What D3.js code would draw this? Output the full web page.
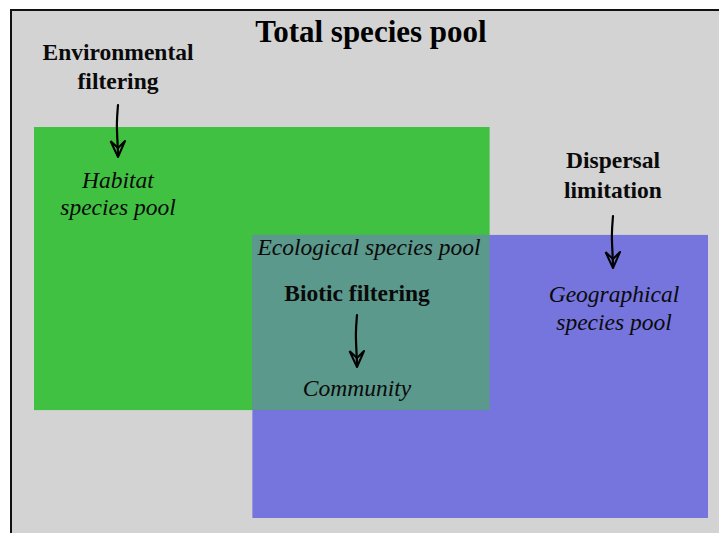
<!DOCTYPE html>
<html>
<head>
<meta charset="utf-8">
<script src="https://cdn.jsdelivr.net/npm/d3@7"></script>
<style>
  html, body { margin: 0; padding: 0; background: #ffffff; }
  svg { display: block; }
</style>
</head>
<body>
<svg id="chart" width="719" height="533"></svg>
<script>
// ---- data ----
const titleText = "Total species pool";
const poolNames = ["Habitat species pool", "Geographical species pool", "Ecological species pool"];
const poolX0 = [0, 32.4];
const poolX1 = [67.6, 100];
const poolY0 = [0, 27.6];
const poolY1 = [72.4, 100];
const processLines = [["Environmental", "filtering"], ["Dispersal", "limitation"], ["Biotic filtering"]];
const poolLines = [["Habitat", "species pool"], ["Geographical", "species pool"], ["Ecological species pool"], ["Community"]];

// ---- layout ----
const W = 719, H = 533;
const svg = d3.select("#chart");
const x = d3.scaleLinear().domain([0, 100]).range([34, 708]);
const y = d3.scaleLinear().domain([0, 100]).range([127, 518]);

const serif = "'Liberation Serif', 'Times New Roman', Times, serif";

// panel
svg.append("rect")
  .attr("x", 11).attr("y", 10).attr("width", W + 20).attr("height", H + 20)
  .attr("fill", "#d3d3d3").attr("stroke", "#111").attr("stroke-width", 2);

// pools
const colors = ["#41c142", "#7575dd"];
const pools = poolX0.map((d, i) => ({ x0: poolX0[i], x1: poolX1[i], y0: poolY0[i], y1: poolY1[i], name: poolNames[i], color: colors[i] }));
svg.selectAll("rect.pool").data(pools).enter().append("rect")
  .attr("class", "pool")
  .attr("x", d => x(d.x0)).attr("y", d => y(d.y0))
  .attr("width", d => x(d.x1) - x(d.x0)).attr("height", d => y(d.y1) - y(d.y0))
  .attr("fill", d => d.color);

// intersection (ecological species pool)
const inter = {
  x0: Math.max(poolX0[0], poolX0[1]), x1: Math.min(poolX1[0], poolX1[1]),
  y0: Math.max(poolY0[0], poolY0[1]), y1: Math.min(poolY1[0], poolY1[1])
};
svg.append("rect")
  .attr("x", x(inter.x0)).attr("y", y(inter.y0))
  .attr("width", x(inter.x1) - x(inter.x0)).attr("height", y(inter.y1) - y(inter.y0))
  .attr("fill", "#5b998c");

// title
svg.append("text").attr("x", 371).attr("y", 42)
  .attr("text-anchor", "middle").attr("font-family", serif)
  .attr("font-weight", "bold").attr("font-size", 31).attr("fill", "#000")
  .text(titleText);

function multiline(lines, cx, y0, dy, bold, italic, size) {
  const t = svg.append("text").attr("text-anchor", "middle")
    .attr("font-family", serif).attr("font-size", size).attr("fill", "#0a0a0a")
    .attr("font-weight", bold ? "bold" : "normal")
    .attr("font-style", italic ? "italic" : "normal");
  lines.forEach((l, i) => {
    t.append("tspan").attr("x", cx).attr("y", y0 + i * dy).text(l);
  });
}

// process labels (bold)
multiline(processLines[0], 118, 60, 29, true, false, 23.5);
multiline(processLines[1], 613, 168, 30, true, false, 23.5);
multiline(processLines[2], 357, 301, 0, true, false, 23.5);

// pool labels (italic)
multiline(poolLines[0], 118, 188, 27, false, true, 23.5);
multiline(poolLines[1], 614, 302, 28, false, true, 23.5);
multiline(poolLines[2], 369, 255, 0, false, true, 23.5);
multiline(poolLines[3], 357, 396, 0, false, true, 23.5);

// hand-drawn arrows
function arrow(cx, top, tip) {
  const line = d3.line().curve(d3.curveBasis);
  const shaft = [[cx, top], [cx - 1.5, top + (tip - top) * 0.35], [cx - 0.5, top + (tip - top) * 0.7], [cx, tip - 3]];
  svg.append("path").attr("d", line(shaft))
    .attr("fill", "none").attr("stroke", "#000").attr("stroke-width", 2.2).attr("stroke-linecap", "round");
  const head = [[cx - 7.5, tip - 16], [cx, tip], [cx + 7, tip - 16], [cx, tip - 9], [cx - 7.5, tip - 16]];
  svg.append("path").attr("d", d3.line()(head))
    .attr("fill", "none").attr("stroke", "#000").attr("stroke-width", 2).attr("stroke-linejoin", "round");
}
arrow(118, 105, 157);
arrow(613, 216, 268);
arrow(357, 315, 367);
</script>
</body>
</html>
